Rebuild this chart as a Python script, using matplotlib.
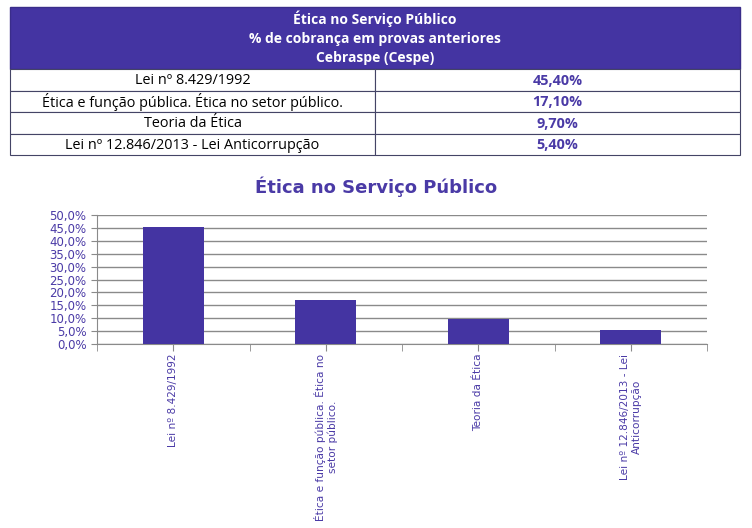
import matplotlib.pyplot as plt
from matplotlib.patches import Rectangle
from matplotlib.ticker import FuncFormatter

# Data
header_lines = ['Ética no Serviço Público',
                '% de cobrança em provas anteriores',
                'Cebraspe (Cespe)']
topics = ['Lei nº 8.429/1992',
          'Ética e função pública. Ética no setor público.',
          'Teoria da Ética',
          'Lei nº 12.846/2013 - Lei Anticorrupção']
tick_labels = ['Lei nº 8.429/1992',
               'Ética e função pública. Ética no\nsetor público.',
               'Teoria da Ética',
               'Lei nº 12.846/2013 - Lei\nAnticorrupção']
shares = [45.4, 17.1, 9.7, 5.4]
chart_title = 'Ética no Serviço Público'

PURPLE = '#4434a2'
TEXT_PURPLE = '#4a3aa6'
W, H = 752, 528

fig = plt.figure(figsize=(W / 100, H / 100), dpi=100)

# Table drawn in pixel coordinates
tab = fig.add_axes([0, 0, 1, 1])
tab.set_xlim(0, W)
tab.set_ylim(H, 0)
tab.axis('off')

left, split, right = 10, 375, 740
head_top, head_bot = 7, 69
row_h = 21.5

tab.add_patch(Rectangle((left, head_top), right - left, head_bot - head_top,
                        facecolor=PURPLE, edgecolor='#3a2d8a', lw=1))
for i, line in enumerate(header_lines):
    tab.text((left + right) / 2, head_top + 12 + i * 19.5, line, ha='center', va='center',
             color='white', fontweight='bold', fontsize=10, family='Open Sans')

for i, (topic, val) in enumerate(zip(topics, shares)):
    y0 = head_bot + i * row_h
    tab.add_patch(Rectangle((left, y0), split - left, row_h, facecolor='white',
                            edgecolor='#444466', lw=0.8))
    tab.add_patch(Rectangle((split, y0), right - split, row_h, facecolor='white',
                            edgecolor='#444466', lw=0.8))
    tab.text((left + split) / 2, y0 + row_h / 2 + 1, topic, ha='center', va='center',
             color='black', fontsize=10.4, family='Open Sans')
    tab.text((split + right) / 2, y0 + row_h / 2 + 1, f'{val:.2f}%'.replace('.', ','),
             ha='center', va='center', color=TEXT_PURPLE, fontweight='bold',
             fontsize=10.4, family='Open Sans')

# Chart title, centred on the figure
tab.text(W / 2, 187, chart_title, ha='center', va='center', color=TEXT_PURPLE,
         fontweight='bold', fontsize=13)

# Bar chart
ax = fig.add_axes([97 / W, 1 - 344 / H, 610 / W, (344 - 215) / H])
x = list(range(len(shares)))
ax.bar(x, [v / 100 for v in shares], width=0.4, color=PURPLE, zorder=3)
ax.set_xlim(-0.5, len(shares) - 0.5)
ax.set_ylim(0, 0.5)
ax.set_yticks([i * 0.05 for i in range(11)])
ax.yaxis.set_major_formatter(FuncFormatter(lambda v, p: f'{v * 100:.1f}%'.replace('.', ',')))
ax.grid(axis='y', color='#8a8a8a', lw=1, zorder=0)
for s in ['top', 'right']:
    ax.spines[s].set_visible(False)
for s in ['left', 'bottom']:
    ax.spines[s].set_color('#8a8a8a')
ax.tick_params(axis='y', colors='#8a8a8a', labelcolor=TEXT_PURPLE, labelsize=8.5, length=4)
ax.set_xticks(x)
ax.set_xticklabels(tick_labels, rotation=90, va='top', ha='center', multialignment='center',
                   color=TEXT_PURPLE, fontsize=7.6)
ax.set_xticks([i - 0.5 for i in range(len(shares) + 1)], minor=True)
ax.tick_params(axis='x', which='both', colors='#8a8a8a', labelcolor=TEXT_PURPLE,
               length=5, pad=2)

fig.savefig('out.png', dpi=100)
